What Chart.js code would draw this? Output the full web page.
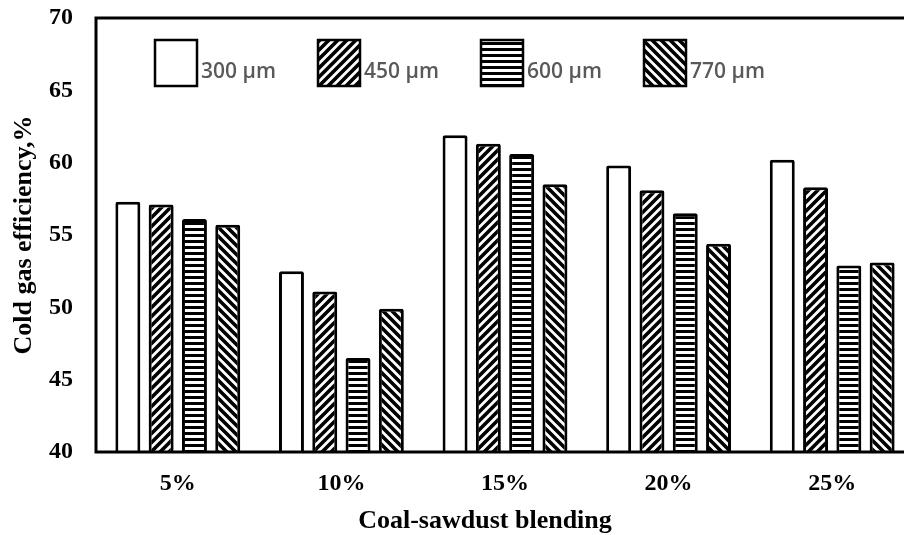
<!DOCTYPE html>
<html>
<head>
<meta charset="utf-8">
<script src="https://cdn.jsdelivr.net/npm/chart.js@4.4.0/dist/chart.umd.min.js"></script>
<style>
  html, body { margin: 0; padding: 0; background: #fff; overflow: hidden; }
  #wrap { width: 904px; height: 535px; overflow: hidden; }
</style>
</head>
<body>
<div id="wrap"><canvas id="cge" width="920" height="535"></canvas></div>
<script>
const blends = ['5%', '10%', '15%', '20%', '25%'];
const sizes = ['300 µm', '450 µm', '600 µm', '770 µm'];
const eff300 = [57.3, 52.5, 61.9, 59.8, 60.2];
const eff450 = [57.1, 51.1, 61.3, 58.1, 58.3];
const eff600 = [56.1, 46.5, 60.6, 56.5, 52.9];
const eff770 = [55.7, 49.9, 58.5, 54.4, 53.1];
const hatches = ['none', '/', '-', '\\'];

const serif = '"Liberation Serif", "Times New Roman", serif';

// small repeating tiles for the hatched bars
function hatch(kind) {
  if (kind === 'none') return '#ffffff';
  const s = kind === '-' ? 6 : 9;
  const tile = document.createElement('canvas');
  tile.width = s; tile.height = s;
  const c = tile.getContext('2d');
  c.fillStyle = '#fff';
  c.fillRect(0, 0, s, s);
  c.fillStyle = '#000';
  c.strokeStyle = '#000';
  if (kind === '-') {
    c.fillRect(0, 0, s, 3);
  } else {
    c.lineWidth = 3.6;
    c.beginPath();
    if (kind === '/') {
      c.moveTo(0, s); c.lineTo(s, 0);
      c.moveTo(-s / 2, s / 2); c.lineTo(s / 2, -s / 2);
      c.moveTo(s / 2, s * 1.5); c.lineTo(s * 1.5, s / 2);
    } else {
      c.moveTo(0, 0); c.lineTo(s, s);
      c.moveTo(-s / 2, s / 2); c.lineTo(s / 2, s * 1.5);
      c.moveTo(s / 2, -s / 2); c.lineTo(s * 1.5, s / 2);
    }
    c.stroke();
  }
  return c.createPattern(tile, 'repeat');
}

const ctx = document.getElementById('cge').getContext('2d');
const fills = hatches.map(hatch);
const series = [eff300, eff450, eff600, eff770];

// box round the plot area (right side falls off the page)
const frame = {
  id: 'frame',
  afterDatasetsDraw(chart) {
    const a = chart.chartArea;
    const c = chart.ctx;
    c.save();
    c.strokeStyle = '#000';
    c.lineWidth = 3;
    c.strokeRect(a.left, a.top, a.right - a.left, a.bottom - a.top);
    c.restore();
  }
};

// legend row inside the plot, boxes carry the same hatch
const legendRow = {
  id: 'legendRow',
  afterDraw(chart) {
    const c = chart.ctx;
    const xs = [155, 318, 481, 644];
    c.save();
    sizes.forEach((name, i) => {
      c.fillStyle = fills[i];
      c.fillRect(xs[i], 40, 42, 46);
      c.strokeStyle = '#000';
      c.lineWidth = 2.5;
      c.strokeRect(xs[i], 40, 42, 46);
      c.fillStyle = '#595959';
      c.font = '600 21px "Open Sans", sans-serif';
      c.textBaseline = 'alphabetic';
      c.textAlign = 'left';
      c.fillText(name, xs[i] + 46, 78);
    });
    c.restore();
  }
};

const xTitle = {
  id: 'xTitle',
  afterDraw(chart) {
    const c = chart.ctx;
    c.save();
    c.fillStyle = '#000';
    c.font = 'bold 26px ' + serif;
    c.textAlign = 'center';
    c.textBaseline = 'alphabetic';
    c.fillText('Coal-sawdust blending', 485, 528);
    c.restore();
  }
};

new Chart(ctx, {
  type: 'bar',
  data: {
    labels: blends,
    datasets: sizes.map((name, i) => ({
      label: name,
      data: series[i],
      backgroundColor: fills[i],
      borderColor: '#000',
      borderWidth: 3,
      borderRadius: 2,
      categoryPercentage: 0.814,
      barPercentage: 0.75
    }))
  },
  options: {
    responsive: false,
    animation: false,
    layout: { padding: { top: 18, right: 6, left: 0, bottom: 0 } },
    plugins: {
      legend: { display: false },
      tooltip: { enabled: false }
    },
    scales: {
      x: {
        grid: { display: false, drawTicks: false },
        border: { display: false },
        ticks: {
          color: '#000',
          padding: 17,
          font: { family: serif, size: 24, weight: 'bold' }
        },
        afterFit(s) {
          s.height = 83;
          s.paddingLeft = 0;
          s.paddingRight = 0;
        }
      },
      y: {
        min: 40,
        max: 70,
        grid: { display: false, drawTicks: false },
        border: { display: false },
        ticks: {
          stepSize: 5,
          color: '#000',
          padding: 23,
          font: { family: serif, size: 24, weight: 'bold' }
        },
        title: {
          display: true,
          text: 'Cold gas efficiency,%',
          color: '#000',
          padding: { top: 9, bottom: 0 },
          font: { family: serif, size: 26, weight: 'bold' }
        },
        afterFit(s) {
          s.width = 96;
          s.paddingTop = 0;
          s.paddingBottom = 0;
        }
      }
    }
  },
  plugins: [frame, legendRow, xTitle]
});
</script>
</body>
</html>
